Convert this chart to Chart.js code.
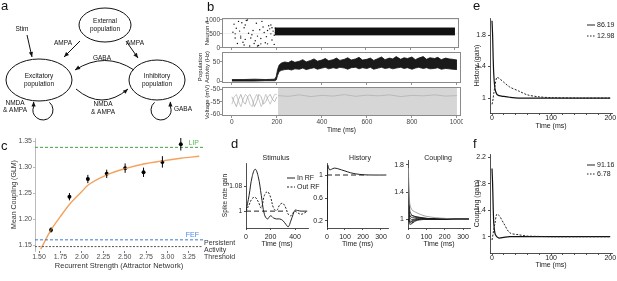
<!DOCTYPE html>
<html>
<head>
<meta charset="utf-8">
<script src="https://cdn.jsdelivr.net/npm/chart.js@4.4.1/dist/chart.umd.min.js"></script>
<style>
  html, body { margin: 0; padding: 0; background: #fff; }
  #fig { position: relative; width: 617px; height: 281px; overflow: hidden; font-family: 'Liberation Sans', Arial, sans-serif; }
  #fig canvas { position: absolute; }
  .lab { position: absolute; font-size: 13px; line-height: 13px; color: #111; }
</style>
</head>
<body>
<div id="fig">
  <canvas id="diagram"></canvas>
  <canvas id="braster"></canvas>
  <canvas id="bact"></canvas>
  <canvas id="bvolt"></canvas>
  <canvas id="cfit"></canvas>
  <canvas id="dstim"></canvas>
  <canvas id="dhist"></canvas>
  <canvas id="dcoup"></canvas>
  <canvas id="ehist"></canvas>
  <canvas id="fcoup"></canvas>
  <div class="lab" style="left:1px;top:-1px">a</div>
  <div class="lab" style="left:207px;top:0px">b</div>
  <div class="lab" style="left:1px;top:139px">c</div>
  <div class="lab" style="left:231px;top:137px">d</div>
  <div class="lab" style="left:473px;top:-1px">e</div>
  <div class="lab" style="left:473px;top:137px">f</div>
</div>
<script>
// ---------- data ----------

// b: raster, neurons firing before the stimulus
const SPIKE_T = [10, 15, 30, 35, 50, 60, 70, 85, 55, 25, 95, 105, 110, 115, 125, 130, 140, 145, 155, 160,
  170, 175, 180, 190, 185, 165, 150, 40, 75, 100, 15, 45, 120, 80, 135, 65, 115, 160, 40, 20,
  90, 55, 130, 175, 195, 195, 190, 180, 60, 5];
const SPIKE_N = [850, 500, 950, 600, 200, 820, 1000, 350, 100, 150, 620, 250, 880, 420, 650, 140, 750, 550, 400, 620,
  680, 500, 280, 120, 600, 790, 180, 420, 520, 150, 350, 900, 80, 60, 950, 980, 60, 140, 350, 700,
  470, 720, 330, 820, 560, 700, 450, 720, 300, 560];
// b: dense persistent band after 200 ms
const BAND_T = [192, 1000];
const BAND_HI = [715, 715];
const BAND_LO = [460, 460];
const RASTER_TICKS = [0, 500, 1000];
const TIME_TICKS = [0, 200, 400, 600, 800, 1000];

// b: population activity envelope (Hz)
const ACT_T = [0, 50, 100, 150, 190, 197, 203, 210, 220, 235, 250, 265, 280, 300, 315, 330, 350, 365, 380, 400,
  415, 430, 450, 465, 480, 500, 515, 530, 550, 565, 580, 600, 615, 630, 650, 665, 680, 700, 715, 730,
  750, 765, 780, 800, 815, 830, 850, 865, 880, 900, 915, 930, 950, 965, 980, 1000];
const ACT_HI = [4, 4, 5, 4, 5, 12, 30, 42, 47, 50, 48, 53, 49, 52, 56, 50, 54, 58, 52, 55,
  59, 53, 56, 60, 54, 57, 61, 55, 58, 62, 55, 57, 60, 54, 59, 63, 56, 60, 58, 64,
  57, 61, 59, 63, 56, 60, 64, 57, 61, 59, 62, 56, 60, 58, 57, 55];
const ACT_LO = [0, 0, 0, 1, 1, 3, 15, 25, 28, 30, 31, 29, 32, 31, 34, 30, 33, 35, 31, 34,
  36, 32, 35, 33, 36, 34, 31, 35, 36, 32, 35, 33, 36, 31, 34, 36, 33, 35, 32, 34,
  36, 33, 35, 31, 34, 36, 33, 35, 32, 33, 35, 31, 33, 32, 31, 30];
const ACT_TICKS = [0, 50];

// b: membrane voltage (mV)
const V_PRE_T = [0, 10, 20, 30, 40, 50, 60, 70, 80, 90, 100, 110, 120, 130, 140, 150, 160, 170, 180, 190, 200];
const V_PRE_1 = [-53, -55, -57, -54, -52, -55, -56, -53, -52, -54, -57, -55, -52, -53, -56, -55, -53, -52, -54, -55, -53];
const V_PRE_2 = [-56, -53, -52, -55, -57, -54, -52, -53, -56, -57, -54, -52, -54, -57, -55, -52, -54, -56, -54, -52, -52];
const V_SPIKE_T = [205, 1000];
const V_SPIKE_HI = [-49.2, -49.2];
const V_SPIKE_LO = [-60.6, -60.6];
const V_POST_T = [205, 250, 300, 350, 400, 450, 500, 550, 600, 650, 700, 750, 800, 850, 900, 950, 1000];
const V_POST = [-52.5, -52.8, -52.2, -52.9, -52.4, -52.7, -52.1, -52.8, -52.3, -52.6, -52.2, -52.9, -52.4, -52.6, -52.2, -52.7, -52.5];
const V_TICKS = [-60, -55, -50];

// c: mean coupling vs recurrent strength
const C_X = [1.64, 1.855, 2.07, 2.29, 2.505, 2.72, 2.94, 3.155];
const C_Y = [1.179, 1.243, 1.277, 1.287, 1.298, 1.290, 1.310, 1.344];
const C_ERR = [0.005, 0.007, 0.008, 0.008, 0.009, 0.009, 0.011, 0.012];
const FIT_X = [1.52, 1.64, 1.75, 1.855, 2.0, 2.07, 2.29, 2.505, 2.72, 2.94, 3.155, 3.37];
const FIT_Y = [1.142, 1.179, 1.205, 1.228, 1.253, 1.265, 1.285, 1.297, 1.306, 1.312, 1.317, 1.321];
const LIP_LEVEL = 1.338;
const FEF_LEVEL = 1.160;
const THRESH_LEVEL = 1.147;
const C_XTICKS = [1.5, 1.75, 2.0, 2.25, 2.5, 2.75, 3.0, 3.25];
const C_YTICKS = [1.15, 1.20, 1.25, 1.30, 1.35];

// d: GLM kernels
const STIM_T = [0, 25, 50, 75, 100, 125, 150, 175, 200, 225, 250, 275, 300, 325, 345, 365, 385, 400, 420, 450, 480, 500];
const STIM_IN = [1.0, 1.05, 1.11, 1.134, 1.11, 1.05, 0.99, 0.975, 0.985, 0.978, 0.975, 0.975, 0.97, 0.958, 0.95, 0.968, 0.99, 1.003, 1.002, 1.0, 1.0, 1.0];
const STIM_OUT = [1.0, 1.02, 1.04, 1.044, 1.03, 1.01, 1.05, 1.062, 1.045, 1.01, 1.002, 1.02, 1.025, 1.01, 0.99, 0.985, 0.995, 1.0, 0.995, 0.99, 0.995, 1.0];
const STIM_BASE_T = [0, 330];
const HIST_T = [0, 2, 4, 8, 15, 25, 40, 60, 80, 100, 130, 160, 200, 250, 330];
const HIST_Y = [0.1, 0.1, 1.17, 1.13, 1.09, 1.10, 1.12, 1.11, 1.09, 1.07, 1.04, 1.02, 1.005, 1.0, 1.0];
const HIST_BASE_T = [0, 225];
const COUP_T = [0, 2, 5, 10, 20, 35, 50, 75, 100, 150, 200, 250, 330];
const COUP_LINES = [
  [1.0, 1.75, 1.45, 1.22, 1.14, 1.11, 1.09, 1.06, 1.04, 1.02, 1.01, 1.0, 1.0],
  [1.0, 1.70, 1.30, 1.12, 1.06, 1.04, 1.03, 1.02, 1.01, 1.0, 1.0, 1.0, 1.0],
  [1.0, 1.60, 1.20, 1.06, 1.02, 1.02, 1.02, 1.01, 1.0, 1.0, 1.0, 1.0, 1.0],
  [1.0, 1.50, 1.12, 1.02, 0.99, 1.0, 1.01, 1.01, 1.0, 1.0, 1.0, 1.0, 1.0],
  [1.0, 1.40, 1.06, 0.98, 0.96, 0.98, 0.99, 1.0, 1.0, 1.0, 1.0, 1.0, 1.0],
  [1.0, 1.30, 1.02, 0.95, 0.94, 0.97, 0.99, 1.0, 1.0, 1.0, 1.0, 1.0, 1.0],
  [1.0, 1.22, 0.98, 0.92, 0.93, 0.96, 0.98, 0.99, 1.0, 1.0, 1.0, 1.0, 1.0],
  [1.0, 1.15, 1.05, 1.03, 1.05, 1.04, 1.03, 1.02, 1.01, 1.0, 1.0, 1.0, 1.0],
  [1.0, 1.10, 0.97, 0.95, 0.97, 0.99, 1.0, 1.0, 1.0, 1.0, 1.0, 1.0, 1.0]
];

// e / f: example neurons
const EF_T = [0, 1, 2, 3, 5, 8, 12, 20, 30, 45, 60, 80, 100, 150, 200];
const E_HIGH = [1.98, 1.8, 1.5, 1.3, 1.12, 1.05, 1.03, 1.02, 1.01, 1.0, 1.0, 1.0, 1.0, 1.0, 1.0];
const E_LOW = [0.92, 0.95, 1.0, 1.06, 1.15, 1.26, 1.25, 1.2, 1.14, 1.09, 1.04, 1.015, 1.005, 1.0, 1.0];
const F_HIGH = [2.03, 1.8, 1.45, 1.2, 1.05, 1.0, 0.98, 0.99, 1.0, 1.0, 1.0, 1.0, 1.0, 1.0, 1.0];
const F_LOW = [0.95, 1.0, 1.05, 1.12, 1.2, 1.34, 1.32, 1.2, 1.06, 1.03, 1.01, 1.005, 1.0, 1.0, 1.0];
const E_LEGEND = ['86.19', '12.98'];
const F_LEGEND = ['91.16', '6.78'];
const EF_XTICKS = [0, 20, 40, 60, 80, 100, 120, 140, 160, 180, 200];

// ---------- helpers ----------
const FONT = "'Liberation Sans', Arial, Helvetica, sans-serif";
Chart.defaults.font.family = FONT;
Chart.defaults.font.size = 7;
Chart.defaults.color = '#222';
Chart.defaults.animation = false;
Chart.defaults.responsive = false;
Chart.defaults.events = [];
Chart.defaults.plugins.legend.display = false;
Chart.defaults.plugins.tooltip.enabled = false;
Chart.defaults.elements.point.radius = 0;
Chart.defaults.elements.line.borderWidth = 1;

const xy = (xs, ys) => xs.map((x, i) => ({ x, y: ys[i] }));

const NOTES = {};
const BOXED = {};

function frame(id, L, T, R, B, m) {
  const c = document.getElementById(id);
  c.width = R - L + m.l + m.r;
  c.height = B - T + m.t + m.b;
  c.style.left = (L - m.l) + 'px';
  c.style.top = (T - m.t) + 'px';
  return c;
}

function lin(min, max, ticks, m, o = {}) {
  const axisColor = o.axisColor || '#222';
  return {
    type: 'linear', min, max,
    afterBuildTicks: s => { s.ticks = ticks.map(v => ({ value: v })); },
    afterFit: s => {
      if (s.isHorizontal()) s.height = m.b; else s.width = m.l;
      s.paddingLeft = s.paddingRight = s.paddingTop = s.paddingBottom = 0;
    },
    border: { display: o.border !== false, color: axisColor, width: 0.8 },
    grid: { drawOnChartArea: !!o.gridColor, color: o.gridColor || axisColor, tickColor: axisColor, tickLength: o.tickLength ?? 2, lineWidth: 0.8 },
    ticks: { display: o.labels !== false, padding: o.tickPad ?? 0, color: o.tickColor || '#222', font: { size: o.tickSize || 7 },
      maxRotation: 0, autoSkip: false, callback: o.fmt || (v => String(v)) },
    title: o.title ? { display: true, text: o.title, color: o.titleColor || '#222',
      font: { size: o.titleSize || 7, lineHeight: o.titleLH || 1.2 }, padding: o.titlePad || { top: 0, bottom: 0 } } : { display: false }
  };
}

function layout(m) {
  return { padding: { left: 0, right: m.r, top: m.t, bottom: 0 } };
}

const notesPlugin = {
  id: 'notes',
  afterDraw(chart) {
    const items = NOTES[chart.canvas.id];
    if (!items) return;
    const ctx = chart.ctx;
    const offX = parseFloat(chart.canvas.style.left) || 0;
    const offY = parseFloat(chart.canvas.style.top) || 0;
    items.forEach(it => {
      let x, y;
      if (it.data) { x = chart.scales.x.getPixelForValue(it.x); y = chart.scales.y.getPixelForValue(it.y); }
      else { x = it.x - offX; y = it.y - offY; }
      x += it.dx || 0; y += it.dy || 0;
      ctx.save();
      ctx.font = `${it.size || 7}px ${FONT}`;
      ctx.fillStyle = it.color || '#222';
      ctx.textAlign = it.align || 'left';
      ctx.textBaseline = 'middle';
      if (it.rot) {
        ctx.translate(x, y);
        ctx.rotate(it.rot * Math.PI / 180);
        ctx.fillText(it.text, 0, 0);
      } else if (it.line) {
        ctx.strokeStyle = it.color || '#222';
        ctx.lineWidth = 1;
        ctx.setLineDash(it.line);
        ctx.beginPath(); ctx.moveTo(x, y); ctx.lineTo(x + 8, y); ctx.stroke();
        ctx.setLineDash([]);
        ctx.fillText(it.text, x + 10, y);
      } else {
        ctx.fillText(it.text, x, y);
      }
      ctx.restore();
    });
  }
};

const boxPlugin = {
  id: 'panelBox',
  afterDraw(chart) {
    if (!BOXED[chart.canvas.id]) return;
    const { left, top, right, bottom } = chart.chartArea;
    const ctx = chart.ctx;
    ctx.save();
    ctx.strokeStyle = '#8a8a8a';
    ctx.lineWidth = 1;
    ctx.strokeRect(left + 0.5, top + 0.5, right - left - 1, bottom - top - 1);
    ctx.restore();
  }
};

const errorBarPlugin = {
  id: 'errorBars',
  afterDatasetsDraw(chart) {
    const ctx = chart.ctx;
    chart.data.datasets.forEach((ds, i) => {
      if (!ds.errorBars) return;
      const meta = chart.getDatasetMeta(i);
      ctx.save();
      ctx.strokeStyle = ds.pointBackgroundColor || '#000';
      ctx.lineWidth = 1;
      meta.data.forEach((el, j) => {
        const v = ds.data[j].y, e = ds.errorBars[j];
        ctx.beginPath();
        ctx.moveTo(el.x, chart.scales.y.getPixelForValue(v - e));
        ctx.lineTo(el.x, chart.scales.y.getPixelForValue(v + e));
        ctx.stroke();
      });
      ctx.restore();
    });
  }
};

Chart.register(notesPlugin, boxPlugin, errorBarPlugin);

// ---------- a: circuit diagram ----------
const DIAGRAM = {
  nodes: [
    { x: 105, y: 25, rx: 26, ry: 17, text: ['External', 'population'] },
    { x: 39, y: 80, rx: 33, ry: 21, text: ['Excitatory', 'population'] },
    { x: 157, y: 80, rx: 28, ry: 20, text: ['Inhibitory', 'population'] }
  ],
  arrows: [[27, 35, 32, 57], [80, 41, 64, 57], [126, 41, 138, 58]],
  curves: [[134, 70, 105, 51, 75, 70], [76, 89, 102, 111, 128, 89]],
  loops: [{ x: 43, y: 110, r: 10, dir: 1 }, { x: 161, y: 110, r: 10, dir: -1 }],
  text: [['Stim', 22, 29], ['AMPA', 63, 43], ['AMPA', 135, 43], ['GABA', 102, 58], ['NMDA', 103, 104],
    ['& AMPA', 103, 112], ['NMDA', 15, 103], ['& AMPA', 15, 110], ['GABA', 183, 109]]
};

function arrowHead(ctx, x, y, ang, size) {
  ctx.save();
  ctx.translate(x, y);
  ctx.rotate(ang);
  ctx.beginPath();
  ctx.moveTo(0, 0);
  ctx.lineTo(-size, -size * 0.42);
  ctx.lineTo(-size, size * 0.42);
  ctx.closePath();
  ctx.fill();
  ctx.restore();
}

const diagramPlugin = {
  id: 'diagram',
  afterDatasetsDraw(chart) {
    const ctx = chart.ctx;
    const sx = v => chart.scales.x.getPixelForValue(v);
    const sy = v => chart.scales.y.getPixelForValue(v);
    ctx.save();
    ctx.strokeStyle = '#111';
    ctx.fillStyle = '#111';
    ctx.lineWidth = 1;
    ctx.font = `6.5px ${FONT}`;
    ctx.textAlign = 'center';
    ctx.textBaseline = 'middle';
    DIAGRAM.nodes.forEach(n => {
      ctx.beginPath();
      ctx.ellipse(sx(n.x), sy(n.y), n.rx, n.ry, 0, 0, Math.PI * 2);
      ctx.stroke();
      n.text.forEach((t, i) => ctx.fillText(t, sx(n.x), sy(n.y) - 4 + i * 8));
    });
    DIAGRAM.arrows.forEach(([x1, y1, x2, y2]) => {
      ctx.beginPath(); ctx.moveTo(sx(x1), sy(y1)); ctx.lineTo(sx(x2), sy(y2)); ctx.stroke();
      arrowHead(ctx, sx(x2), sy(y2), Math.atan2(sy(y2) - sy(y1), sx(x2) - sx(x1)), 5);
    });
    DIAGRAM.curves.forEach(([x1, y1, qx, qy, x2, y2]) => {
      ctx.beginPath(); ctx.moveTo(sx(x1), sy(y1)); ctx.quadraticCurveTo(sx(qx), sy(qy), sx(x2), sy(y2)); ctx.stroke();
      arrowHead(ctx, sx(x2), sy(y2), Math.atan2(sy(y2) - sy(qy), sx(x2) - sx(qx)), 5);
    });
    DIAGRAM.loops.forEach(l => {
      const d = Math.PI / 180;
      const cx = sx(l.x), cy = sy(l.y);
      ctx.beginPath();
      if (l.dir > 0) ctx.arc(cx, cy, l.r, -50 * d, 200 * d, false);
      else ctx.arc(cx, cy, l.r, 230 * d, -20 * d, true);
      const ex = cx + l.dir * -Math.cos(20 * d) * l.r;
      ctx.lineTo(ex, cy - 8);
      ctx.stroke();
      arrowHead(ctx, ex, cy - 8.5, -Math.PI / 2, 5);
    });
    DIAGRAM.text.forEach(([t, x, y]) => ctx.fillText(t, sx(x), sy(y)));
    ctx.restore();
  }
};

frame('diagram', 0, 0, 205, 122, { l: 0, t: 0, r: 0, b: 0 });
new Chart(document.getElementById('diagram'), {
  type: 'line',
  data: { datasets: [] },
  options: {
    layout: { padding: 0 },
    scales: {
      x: { type: 'linear', min: 0, max: 205, display: false },
      y: { type: 'linear', min: 0, max: 122, reverse: true, display: false }
    }
  },
  plugins: [diagramPlugin]
});

// ---------- b: network simulation ----------
const mB = { l: 26, t: 8, r: 2, b: 8 };
const mBv = { l: 26, t: 8, r: 2, b: 18 };
const B_XMIN = -44, B_XMAX = 1018;

frame('braster', 222, 18, 461, 48, mB);
BOXED.braster = true;
NOTES.braster = [{ text: 'Neuron #', x: 207, y: 33, rot: -90, align: 'center', size: 6 }];
new Chart(document.getElementById('braster'), {
  type: 'line',
  data: {
    datasets: [
      { data: xy(SPIKE_T, SPIKE_N), showLine: false, pointRadius: 0.7, pointBackgroundColor: '#111', pointBorderWidth: 0 },
      { data: xy(BAND_T, BAND_HI), borderColor: '#111', borderWidth: 0.8, fill: '+1', backgroundColor: '#111' },
      { data: xy(BAND_T, BAND_LO), borderColor: '#111', borderWidth: 0.8 }
    ]
  },
  options: {
    layout: layout(mB),
    scales: {
      x: lin(B_XMIN, B_XMAX, TIME_TICKS, mB, { labels: false, border: false, axisColor: '#777' }),
      y: lin(-10, 1072, RASTER_TICKS, mB, { border: false, axisColor: '#777', gridColor: '#ececec', tickColor: '#444', tickSize: 6.5 })
    }
  }
});

frame('bact', 222, 52, 461, 83, mB);
BOXED.bact = true;
NOTES.bact = [
  { text: 'Population', x: 200, y: 67, rot: -90, align: 'center', size: 6 },
  { text: 'Activity (Hz)', x: 207, y: 67, rot: -90, align: 'center', size: 6 }
];
new Chart(document.getElementById('bact'), {
  type: 'line',
  data: {
    datasets: [
      { data: xy(ACT_T, ACT_HI), borderColor: '#111', borderWidth: 0.8, fill: '+1', backgroundColor: '#1a1a1a' },
      { data: xy(ACT_T, ACT_LO), borderColor: '#111', borderWidth: 0.8 }
    ]
  },
  options: {
    layout: layout(mB),
    scales: {
      x: lin(B_XMIN, B_XMAX, TIME_TICKS, mB, { labels: false, border: false, axisColor: '#777' }),
      y: lin(-5, 76, ACT_TICKS, mB, { border: false, axisColor: '#777', tickColor: '#444', tickSize: 6.5 })
    }
  }
});

frame('bvolt', 222, 87, 461, 116, mBv);
BOXED.bvolt = true;
NOTES.bvolt = [{ text: 'Voltage (mV)', x: 207, y: 102, rot: -90, align: 'center', size: 6 }];
new Chart(document.getElementById('bvolt'), {
  type: 'line',
  data: {
    datasets: [
      { data: xy(V_SPIKE_T, V_SPIKE_HI), borderWidth: 0, fill: '+1', backgroundColor: 'rgba(165,165,165,0.45)' },
      { data: xy(V_SPIKE_T, V_SPIKE_LO), borderWidth: 0 },
      { data: xy(V_POST_T, V_POST), borderColor: '#bdbdbd', borderWidth: 0.8 },
      { data: xy(V_PRE_T, V_PRE_1), borderColor: '#a8a8a8', borderWidth: 0.8 },
      { data: xy(V_PRE_T, V_PRE_2), borderColor: '#bcbcbc', borderWidth: 0.8 }
    ]
  },
  options: {
    layout: layout(mBv),
    scales: {
      x: lin(B_XMIN, B_XMAX, TIME_TICKS, mBv, { border: false, axisColor: '#777', tickColor: '#444', tickSize: 6.5,
        title: 'Time (ms)', titleSize: 6.5, titlePad: { top: 0, bottom: 0 } }),
      y: lin(-60.8, -49, V_TICKS, mBv, { border: false, axisColor: '#777', tickColor: '#444', tickSize: 6.5 })
    }
  }
});

// ---------- c: coupling vs recurrent strength ----------
const mC = { l: 35, t: 4, r: 40, b: 20 };
const C_XMIN = 1.453, C_XMAX = 3.414;
frame('cfit', 35, 138, 203, 251, mC);
NOTES.cfit = [
  { text: 'LIP', data: true, x: C_XMAX, y: LIP_LEVEL, dx: -4, dy: -4.5, align: 'right', color: '#5cb85c' },
  { text: 'FEF', data: true, x: C_XMAX, y: FEF_LEVEL, dx: -4, dy: -5, align: 'right', color: '#4a86e8' },
  { text: 'Persistent', x: 204, y: 243, color: '#333' },
  { text: 'Activity', x: 204, y: 250, color: '#333' },
  { text: 'Threshold', x: 204, y: 257, color: '#333' }
];
new Chart(document.getElementById('cfit'), {
  type: 'line',
  data: {
    datasets: [
      { data: xy([C_XMIN, C_XMAX], [LIP_LEVEL, LIP_LEVEL]), borderColor: '#43a047', borderDash: [3, 2], borderWidth: 1 },
      { data: xy([C_XMIN, C_XMAX], [FEF_LEVEL, FEF_LEVEL]), borderColor: '#3d78d8', borderDash: [3, 2], borderWidth: 1 },
      { data: xy([C_XMIN, C_XMAX], [THRESH_LEVEL, THRESH_LEVEL]), borderColor: '#555', borderDash: [2, 1.5], borderWidth: 1 },
      { data: xy(FIT_X, FIT_Y), borderColor: '#f4a25c', borderWidth: 1.4, cubicInterpolationMode: 'monotone' },
      { data: xy(C_X, C_Y), showLine: false, pointRadius: 2, pointBackgroundColor: '#000', pointBorderWidth: 0, errorBars: C_ERR }
    ]
  },
  options: {
    layout: layout(mC),
    scales: {
      x: lin(C_XMIN, C_XMAX, C_XTICKS, mC, { border: false, axisColor: '#555', tickColor: '#4d4d4d', fmt: v => v.toFixed(2),
        title: 'Recurrent Strength (Attractor Network)', titleSize: 7.5, titleColor: '#333', titlePad: { top: 0, bottom: 0.5 } }),
      y: lin(1.1385, 1.356, C_YTICKS, mC, { axisColor: '#aaa', tickColor: '#4d4d4d', tickPad: 1, fmt: v => v.toFixed(2),
        title: 'Mean Coupling (GLM)', titleColor: '#333', titlePad: { top: 9.8 } })
    }
  }
});

// ---------- d: GLM kernels ----------
const mD1 = { l: 26, t: 8, r: 18, b: 20 };
frame('dstim', 246, 163, 308, 228, mD1);
NOTES.dstim = [
  { text: 'Stimulus', x: 276, y: 158, align: 'center' },
  { text: 'In RF', x: 287, y: 178, line: [] },
  { text: 'Out RF', x: 287, y: 187, line: [2, 1.5] }
];
new Chart(document.getElementById('dstim'), {
  type: 'line',
  data: {
    datasets: [
      { data: xy(STIM_BASE_T, [1, 1]), borderColor: '#222', borderDash: [5, 3], borderWidth: 1 },
      { data: xy(STIM_T, STIM_OUT), borderColor: '#222', borderDash: [2, 1.5], borderWidth: 1, tension: 0.4 },
      { data: xy(STIM_T, STIM_IN), borderColor: '#222', borderWidth: 1, tension: 0.4 }
    ]
  },
  options: {
    layout: layout(mD1),
    scales: {
      x: lin(0, 506, [0, 200, 400], mD1, { tickPad: 3, title: 'Time (ms)' }),
      y: lin(0.946, 1.154, [1, 1.08], mD1, { tickPad: 2, tickSize: 6.5, title: 'Spike rate gain', titleSize: 6.5, titlePad: { top: 1.5 } })
    }
  }
});

const mD2 = { l: 22, t: 8, r: 2, b: 20 };
frame('dhist', 327, 163, 388, 228, mD2);
NOTES.dhist = [{ text: 'History', x: 360, y: 158, align: 'center' }];
new Chart(document.getElementById('dhist'), {
  type: 'line',
  data: {
    datasets: [
      { data: xy(HIST_BASE_T, [1, 1]), borderColor: '#222', borderDash: [5, 3], borderWidth: 1 },
      { data: xy(HIST_T, HIST_Y), borderColor: '#222', borderWidth: 1, tension: 0.3 }
    ]
  },
  options: {
    layout: layout(mD2),
    scales: {
      x: lin(0, 339, [0, 100, 200, 300], mD2, { tickPad: 3, title: 'Time (ms)' }),
      y: lin(0.078, 1.209, [0.2, 0.6, 1], mD2, { tickPad: 2 })
    }
  }
});

const mD3 = { l: 20, t: 5, r: 2, b: 20 };
frame('dcoup', 408, 160, 470, 228, mD3);
NOTES.dcoup = [{ text: 'Coupling', x: 438, y: 158, align: 'center' }];
new Chart(document.getElementById('dcoup'), {
  type: 'line',
  data: {
    datasets: COUP_LINES.map((ys, i) => ({
      data: xy(COUP_T, ys), borderColor: i === 0 ? '#8a8a8a' : '#1a1a1a', borderWidth: 0.8, tension: 0.3
    }))
  },
  options: {
    layout: layout(mD3),
    scales: {
      x: lin(0, 338, [0, 100, 200, 300], mD3, { tickPad: 3, title: 'Time (ms)' }),
      y: lin(0.867, 1.874, [1, 1.4, 1.8], mD3, { tickPad: 2 })
    }
  }
});

// ---------- e / f: example kernels ----------
const mE = { l: 20, t: 2, r: 5, b: 17 };
const efTickFmt = v => (v % 100 === 0 ? String(v) : '');
frame('ehist', 490, 18, 612, 113, mE);
NOTES.ehist = [
  { text: E_LEGEND[0], x: 587, y: 25, line: [] },
  { text: E_LEGEND[1], x: 587, y: 36, line: [1.5, 1.5] }
];
new Chart(document.getElementById('ehist'), {
  type: 'line',
  data: {
    datasets: [
      { data: xy(EF_T, E_LOW), borderColor: '#222', borderDash: [2, 1.5], borderWidth: 1, tension: 0.3 },
      { data: xy(EF_T, E_HIGH), borderColor: '#111', borderWidth: 1.2, tension: 0.3 }
    ]
  },
  options: {
    layout: layout(mE),
    scales: {
      x: lin(-3.4, 203, EF_XTICKS, mE, { tickPad: -1, fmt: efTickFmt, title: 'Time (ms)' }),
      y: lin(0.81, 2.016, [1, 1.4, 1.8], mE, { tickPad: 2, title: 'History (gain)', titlePad: { top: 2.8 } })
    }
  }
});

const mF = { l: 20, t: 2, r: 5, b: 16 };
frame('fcoup', 490, 154, 612, 253, mF);
NOTES.fcoup = [
  { text: F_LEGEND[0], x: 587, y: 165, line: [] },
  { text: F_LEGEND[1], x: 587, y: 174, line: [1.5, 1.5] }
];
new Chart(document.getElementById('fcoup'), {
  type: 'line',
  data: {
    datasets: [
      { data: xy(EF_T, F_LOW), borderColor: '#222', borderDash: [2, 1.5], borderWidth: 1, tension: 0.3 },
      { data: xy(EF_T, F_HIGH), borderColor: '#111', borderWidth: 1.2, tension: 0.3 }
    ]
  },
  options: {
    layout: layout(mF),
    scales: {
      x: lin(-3.4, 203, EF_XTICKS, mF, { tickPad: -1, fmt: efTickFmt, title: 'Time (ms)' }),
      y: lin(0.754, 2.25, [1, 1.4, 1.8, 2.2], mF, { tickPad: 2, title: 'Coupling (gain)', titlePad: { top: 2.8 } })
    }
  }
});
</script>
</body>
</html>
